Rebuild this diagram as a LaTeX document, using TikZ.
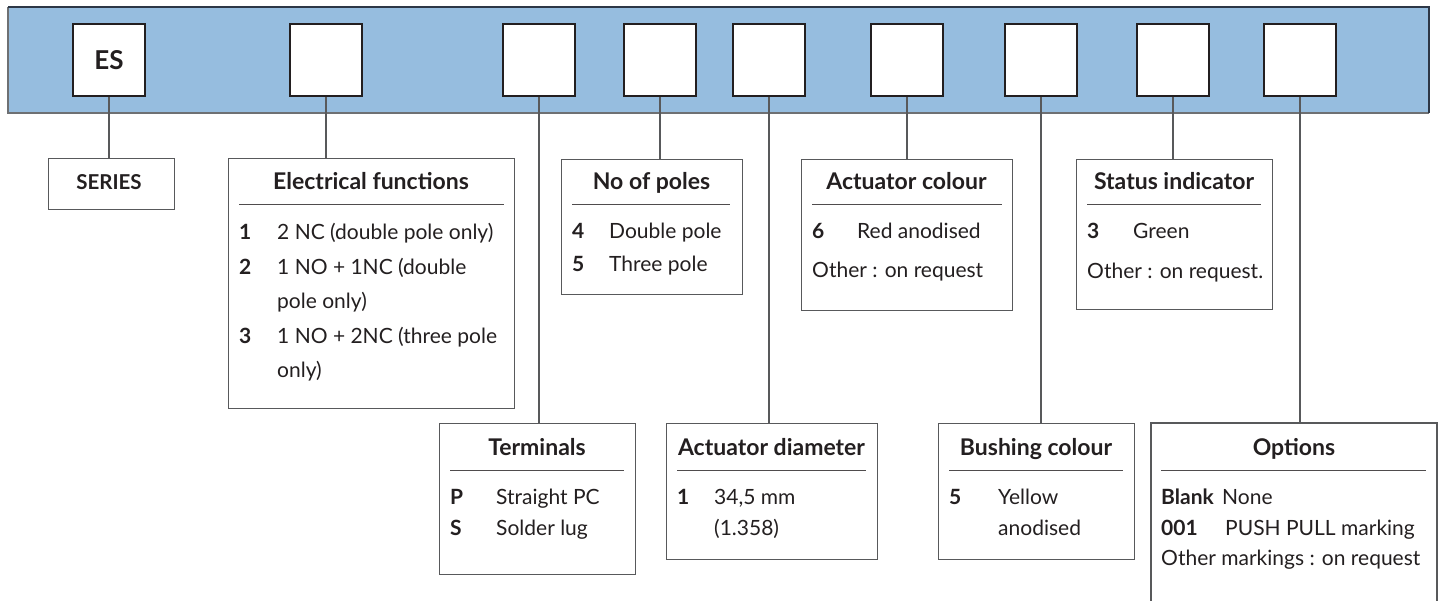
\documentclass[tikz,border=0pt]{standalone}
\usepackage{fontspec}
\setmainfont{Lato}
\definecolor{bandblue}{RGB}{150,189,223}
\definecolor{banddark}{RGB}{45,55,70}
\definecolor{bandgray}{RGB}{110,112,115}
\definecolor{ink}{RGB}{35,31,32}
\definecolor{frame}{RGB}{88,89,91}
\newcommand\bodyfnt{\fontsize{21}{24}\selectfont}
\newcommand\ttlfnt{\fontsize{23}{26}\selectfont\bfseries}
\tikzset{
  selbox/.style={draw=ink, line width=2.6pt, fill=white, minimum size=72pt, inner sep=0pt, text=ink, font=\fontsize{26}{28}\selectfont\bfseries},
  infobox/.style={draw=frame, line width=1.3pt, fill=white, anchor=north west, inner sep=0pt},
  conn/.style={draw=frame, line width=1.2pt},
  rulel/.style={draw=ink!80, line width=1pt},
  ttl/.style={anchor=base, inner sep=0pt, text=ink, font=\ttlfnt},
  num/.style={anchor=base west, inner sep=0pt, text=ink, font=\bodyfnt\bfseries},
  body/.style={anchor=base west, inner sep=0pt, text=ink, font=\bodyfnt},
}
\begin{document}
\begin{tikzpicture}[x=1pt,y=-1pt]
\useasboundingbox (0,0) rectangle (1443,601);
% band
\fill[bandblue] (8,7) rectangle (1429,113);
\draw[bandgray, line width=1.5pt] (8,7) -- (8,113) -- (1429,113);
\draw[banddark, line width=1.5pt] (8,7) -- (1429,7) -- (1429,113);
% selection boxes
\node[selbox] (b1) at (109,60) {ES};
\node[selbox] (b2) at (326,60) {};
\node[selbox] (b3) at (539,60) {};
\node[selbox] (b4) at (660,60) {};
\node[selbox] (b5) at (769,60) {};
\node[selbox] (b6) at (907,60) {};
\node[selbox] (b7) at (1041,60) {};
\node[selbox] (b8) at (1173,60) {};
\node[selbox] (b9) at (1300,60) {};
% info boxes
\node[infobox, minimum width=126pt, minimum height=51pt] (series) at (48,158) {};
\node[infobox, minimum width=286pt, minimum height=250pt] (elec) at (228,158) {};
\node[infobox, minimum width=181pt, minimum height=135pt] (poles) at (561,159) {};
\node[infobox, minimum width=211pt, minimum height=151pt] (acol) at (801,159) {};
\node[infobox, minimum width=196pt, minimum height=150pt] (stat) at (1076,159) {};
\node[infobox, minimum width=196pt, minimum height=151pt] (term) at (439,423) {};
\node[infobox, minimum width=211pt, minimum height=136pt] (adia) at (666,423) {};
\node[infobox, minimum width=196pt, minimum height=136pt] (bush) at (938,423) {};
\coordinate (optsw) at (1151,610);
\coordinate (optnw) at (1151,423);
\coordinate (optne) at (1437,423);
\coordinate (optse) at (1437,610);
\draw[draw=frame, line width=1.3pt] (optsw) -- (optnw) -- (optne) -- (optse);
\coordinate (opttop) at (1300,423);
% connectors
\draw[conn] (b1.south) -- (b1.south |- series.north);
\draw[conn] (b2.south) -- (b2.south |- elec.north);
\draw[conn] (b3.south) -- (b3.south |- term.north);
\draw[conn] (b4.south) -- (b4.south |- poles.north);
\draw[conn] (b5.south) -- (b5.south |- adia.north);
\draw[conn] (b6.south) -- (b6.south |- acol.north);
\draw[conn] (b7.south) -- (b7.south |- bush.north);
\draw[conn] (b8.south) -- (b8.south |- stat.north);
\draw[conn] (b9.south) -- (opttop);
% SERIES
\node[anchor=base, inner sep=0pt, text=ink, font=\fontsize{20.5}{22}\selectfont\bfseries] (seriest) at (109,190) {SERIES};
% Electrical functions
\node[ttl] (elect) at (371,190) {Electrical functions};
\draw[rulel] (239,205) -- (504,205);
\node[num] (e1n) at (239,240) {1};
\node[body] (e1t) at (277,240) {2 NC (double pole only)};
\node[num] (e2n) at (239,274.5) {2};
\node[body] (e2t) at (277,274.5) {1 NO + 1NC (double};
\node[body] (e2u) at (277,309) {pole only)};
\node[num] (e3n) at (239,343.5) {3};
\node[body] (e3t) at (277,343.5) {1 NO + 2NC (three pole};
\node[body] (e3u) at (277,378) {only)};
% No of poles
\node[ttl] (polest) at (651.5,190) {No of poles};
\draw[rulel] (572,205) -- (730,205);
\node[num] (p4n) at (572,239) {4};
\node[body] (p4t) at (609,239) {Double pole};
\node[num] (p5n) at (572,272) {5};
\node[body] (p5t) at (609,272) {Three pole};
% Actuator colour
\node[ttl] (acolt) at (906.5,190) {Actuator colour};
\draw[rulel] (812,205) -- (1002,205);
\node[num] (a6n) at (812,239) {6};
\node[body] (a6t) at (857,239) {Red anodised};
\node[body] (aoth) at (812,278) {Other : on request};
% Status indicator
\node[ttl] (statt) at (1174,190) {Status indicator};
\draw[rulel] (1087,205) -- (1261,205);
\node[num] (s3n) at (1087,239) {3};
\node[body] (s3t) at (1133,239) {Green};
\node[body] (soth) at (1087,279) {Other : on request.};
% Terminals
\node[ttl] (termt) at (537,455) {Terminals};
\draw[rulel] (450,470) -- (624,470);
\node[num] (tpn) at (450,504) {P};
\node[body] (tpt) at (496,504) {Straight PC};
\node[num] (tsn) at (450,535) {S};
\node[body] (tst) at (496,535) {Solder lug};
% Actuator diameter
\node[ttl] (adiat) at (771.5,455) {Actuator diameter};
\draw[rulel] (677,470) -- (866,470);
\node[num] (d1n) at (677,504) {1};
\node[body] (d1t) at (714,504) {34,5 mm};
\node[body] (d1u) at (714,535) {(1.358)};
% Bushing colour
\node[ttl] (busht) at (1036,455) {Bushing colour};
\draw[rulel] (949,470) -- (1123,470);
\node[num] (u5n) at (949,504) {5};
\node[body] (u5t) at (998,504) {Yellow};
\node[body] (u5u) at (998,535) {anodised};
% Options
\node[ttl] (optt) at (1294,455) {Options};
\draw[rulel] (1161,470) -- (1426,470);
\node[num] (obn) at (1161,504) {Blank};
\node[body] (obt) at ([xshift=8pt]obn.base east) {None};
\node[num] (o1n) at (1161,535) {001};
\node[body] (o1t) at (1225,535) {PUSH PULL marking};
\node[body] (ooth) at (1161,565) {Other markings : on request};
\end{tikzpicture}
\end{document}
